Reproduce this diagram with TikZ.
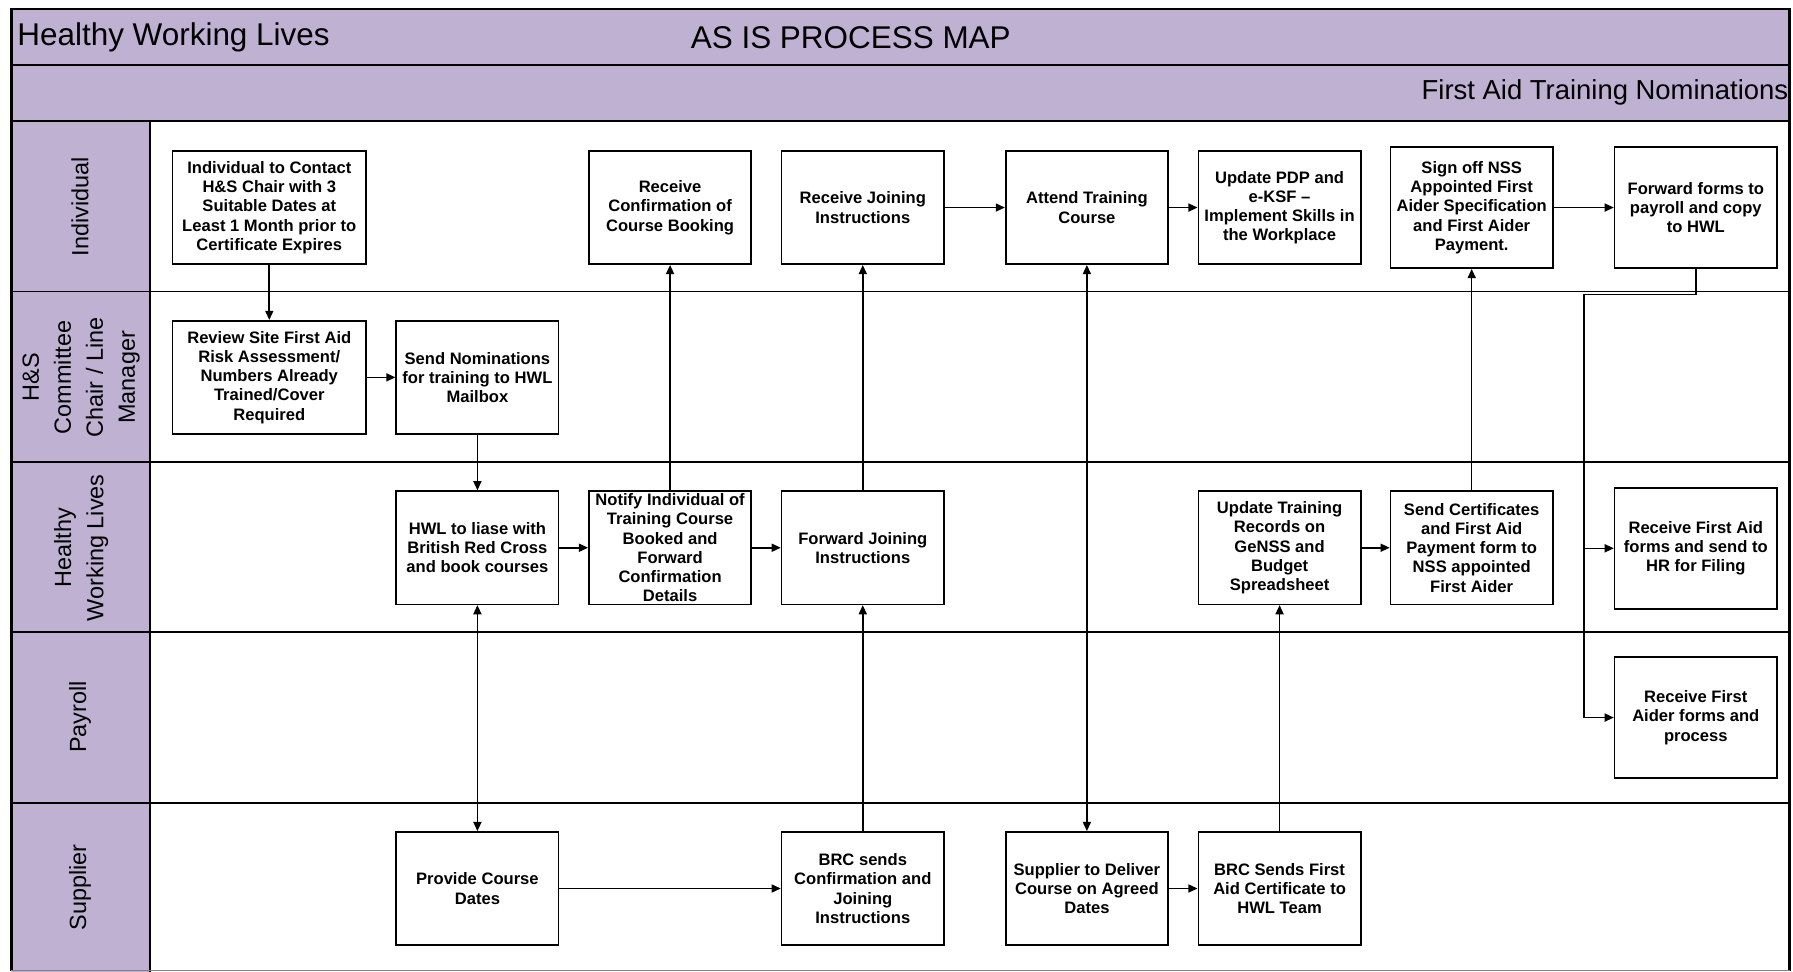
\documentclass[tikz,border=0pt]{standalone}
\usepackage{fontspec}
\setmainfont{Liberation Sans}
\usetikzlibrary{arrows.meta}
\definecolor{lav}{RGB}{191,177,210}
\begin{document}
\begin{tikzpicture}[x=1pt,y=-1pt,
  box/.style={draw=black,line width=1.4pt,fill=white,align=center,inner sep=1pt,
    minimum width=142pt,minimum height=99pt,
    font=\bfseries\fontsize{14.5}{16.8}\selectfont},
  wide/.style={minimum width=169pt},
  tall/.style={minimum height=106pt},
  arr/.style={line width=1.4pt,-{Triangle[length=8pt,width=7pt]}},
  arrb/.style={line width=1.4pt,{Triangle[length=8pt,width=7pt]}-{Triangle[length=8pt,width=7pt]}},
  lane/.style={rotate=90,align=center,font=\fontsize{20.5}{28}\selectfont},
  grid/.style={line width=1.5pt,draw=black}]
\useasboundingbox (0,0) rectangle (1568,850);
% header bands and label column
\fill[lav] (10,8) rectangle (1565,106);
\fill[lav] (10,106) rectangle (131,850);
\draw[grid] (10,57) -- (1565,57);
\foreach \yy in {106,255,404,553,702} \draw[grid] (10,\yy) -- (1565,\yy);
\draw[grid] (131,106) -- (131,850);
\draw[line width=2.2pt] (10,849) -- (10,8) -- (1565,8) -- (1565,849);
\draw[line width=1pt,draw=gray] (10,849) -- (1565,849);
% titles
\node[anchor=west,font=\fontsize{27.5}{32}\selectfont,inner sep=0pt] (t1) at (15,33) {Healthy Working Lives};
\node[font=\fontsize{27.5}{32}\selectfont,inner sep=0pt] (t2) at (744,33) {AS IS PROCESS MAP};
\node[anchor=east,font=\fontsize{24}{28}\selectfont,inner sep=0pt] (t3) at (1564,81) {First Aid Training Nominations};
% lane labels
\node[lane] (L1) at (70,181) {Individual};
\node[lane] (L2) at (71,330) {H\&S\\Committee\\Chair / Line\\Manager};
\node[lane] (L3) at (71,479) {Healthy\\Working Lives};
\node[lane] (L4) at (70,627) {Payroll};
\node[lane] (L5) at (70,776) {Supplier};
% Individual lane
\node[box,wide] (B1) at (235.5,181.5) {Individual to Contact\\H\&S Chair with 3\\Suitable Dates at\\Least 1 Month prior to\\Certificate Expires};
\node[box] (B2) at (586,181.5) {Receive\\Confirmation of\\Course Booking};
\node[box] (B3) at (754.5,181.5) {Receive Joining\\Instructions};
\node[box] (B4) at (950.5,181.5) {Attend Training\\Course};
\node[box] (B5) at (1119,181.5) {Update PDP and\\e-KSF --\\Implement Skills in\\the Workplace};
\node[box,tall] (B6) at (1287,181.5) {Sign off NSS\\Appointed First\\Aider Specification\\and First Aider\\Payment.};
\node[box,tall] (B7) at (1483,181.5) {Forward forms to\\payroll and copy\\to HWL};
% H&S lane
\node[box,wide] (C1) at (235.5,330) {Review Site First Aid\\Risk Assessment/\\Numbers Already\\Trained/Cover\\Required};
\node[box] (C2) at (417.5,330) {Send Nominations\\for training to HWL\\Mailbox};
% HWL lane
\node[box] (D1) at (417.5,479) {HWL to liase with\\British Red Cross\\and book courses};
\node[box] (D2) at (586,479) {Notify Individual of\\Training Course\\Booked and\\Forward\\Confirmation\\Details};
\node[box] (D3) at (754.5,479) {Forward Joining\\Instructions};
\node[box] (D4) at (1119,479) {Update Training\\Records on\\GeNSS and\\Budget\\Spreadsheet};
\node[box] (D5) at (1287,479) {Send Certificates\\and First Aid\\Payment form to\\NSS appointed\\First Aider};
\node[box,tall] (D6) at (1483,479.5) {Receive First Aid\\forms and send to\\HR for Filing};
% Payroll lane
\node[box,tall] (E1) at (1483,627.5) {Receive First\\Aider forms and\\process};
% Supplier lane
\node[box] (F1) at (417.5,777) {Provide Course\\Dates};
\node[box] (F2) at (754.5,777) {BRC sends\\Confirmation and\\Joining\\Instructions};
\node[box] (F3) at (950.5,777) {Supplier to Deliver\\Course on Agreed\\Dates};
\node[box] (F4) at (1119,777) {BRC Sends First\\Aid Certificate to\\HWL Team};
% connectors
\draw[arr] (B1.south) -- (C1.north);
\draw[arr] (C1.east) -- (C2.west);
\draw[arr] (C2.south) -- (D1.north);
\draw[arr] (D1.east) -- (D2.west);
\draw[arr] (D2.east) -- (D3.west);
\draw[arr] (D2.north) -- (B2.south);
\draw[arr] (D3.north) -- (B3.south);
\draw[arrb] (D1.south) -- (F1.north);
\draw[arr] (F1.east) -- (F2.west);
\draw[arr] (F2.north) -- (D3.south);
\draw[arr] (B3.east) -- (B4.west);
\draw[arr] (B4.east) -- (B5.west);
\draw[arrb] (B4.south) -- (F3.north);
\draw[arr] (F3.east) -- (F4.west);
\draw[arr] (F4.north) -- (D4.south);
\draw[arr] (D4.east) -- (D5.west);
\draw[arr] (D5.north) -- (B6.south);
\draw[arr] (B6.east) -- (B7.west);
\coordinate (J) at (1385,257.5);
\draw[line width=1.4pt] (B7.south) |- (J);
\draw[arr] (J) |- (D6.west);
\draw[arr] (J) |- (E1.west);
\end{tikzpicture}
\end{document}
